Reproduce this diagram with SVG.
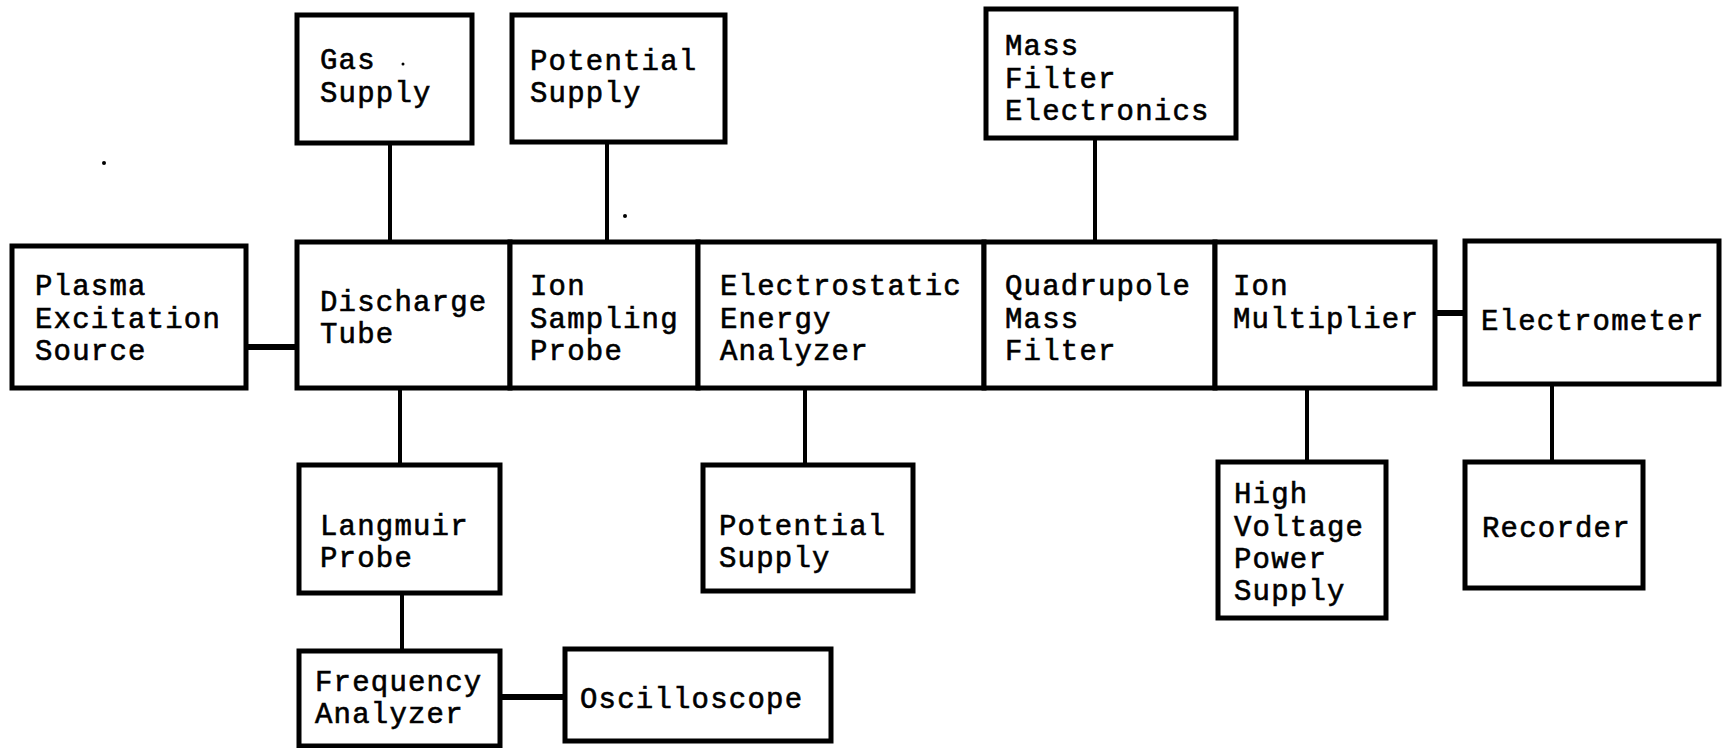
<svg xmlns="http://www.w3.org/2000/svg" width="1729" height="748" viewBox="0 0 1729 748">
  <style>
    .box { fill: #fff; stroke: #000; stroke-width: 5; stroke-linejoin: miter; }
    .wire { stroke: #000; stroke-width: 4; fill: none; }
    .bus { stroke: #000; stroke-width: 6; fill: none; }
    text { font-family: "Liberation Mono", "Courier New", monospace; font-size: 29px; letter-spacing: 1.2px; fill: #000; stroke: #000; stroke-width: 0.6; }
  </style>
  <rect width="1729" height="748" fill="#fff"/>

  <!-- connectors -->
  <g id="connectors">
    <line class="wire" x1="390" y1="143" x2="390" y2="242"/>
    <line class="wire" x1="607" y1="142" x2="607" y2="242"/>
    <line class="wire" x1="1095" y1="138" x2="1095" y2="242"/>
    <line class="bus" x1="246" y1="347" x2="297" y2="347"/>
    <line class="bus" x1="1435" y1="313" x2="1465" y2="313"/>
    <line class="wire" x1="400" y1="388" x2="400" y2="465"/>
    <line class="wire" x1="402" y1="593" x2="402" y2="651"/>
    <line class="bus" x1="500" y1="697" x2="565" y2="697"/>
    <line class="wire" x1="805" y1="388" x2="805" y2="465"/>
    <line class="wire" x1="1307" y1="388" x2="1307" y2="462"/>
    <line class="wire" x1="1552" y1="384" x2="1552" y2="462"/>
  </g>

  <!-- upper supplies -->
  <g id="gas-supply">
    <rect class="box" x="297" y="15" width="175" height="128"/>
    <text x="320" y="69">Gas</text>
    <text x="320" y="102">Supply</text>
  </g>
  <g id="potential-supply-top">
    <rect class="box" x="512" y="15" width="213" height="127"/>
    <text x="530" y="70">Potential</text>
    <text x="530" y="102">Supply</text>
  </g>
  <g id="mass-filter-electronics">
    <rect class="box" x="986" y="9" width="250" height="129"/>
    <text x="1005" y="55">Mass</text>
    <text x="1005" y="88">Filter</text>
    <text x="1005" y="120">Electronics</text>
  </g>

  <!-- main chain -->
  <g id="plasma-excitation-source">
    <rect class="box" x="12" y="246" width="234" height="142"/>
    <text x="35" y="295">Plasma</text>
    <text x="35" y="328">Excitation</text>
    <text x="35" y="360">Source</text>
  </g>
  <g id="discharge-tube">
    <rect class="box" x="297" y="242" width="213" height="146"/>
    <text x="320" y="311">Discharge</text>
    <text x="320" y="343">Tube</text>
  </g>
  <g id="ion-sampling-probe">
    <rect class="box" x="510" y="242" width="188" height="146"/>
    <text x="530" y="295">Ion</text>
    <text x="530" y="328">Sampling</text>
    <text x="530" y="360">Probe</text>
  </g>
  <g id="electrostatic-energy-analyzer">
    <rect class="box" x="698" y="242" width="286" height="146"/>
    <text x="720" y="295">Electrostatic</text>
    <text x="720" y="328">Energy</text>
    <text x="720" y="360">Analyzer</text>
  </g>
  <g id="quadrupole-mass-filter">
    <rect class="box" x="984" y="242" width="231" height="146"/>
    <text x="1005" y="295">Quadrupole</text>
    <text x="1005" y="328">Mass</text>
    <text x="1005" y="360">Filter</text>
  </g>
  <g id="ion-multiplier">
    <rect class="box" x="1215" y="242" width="220" height="146"/>
    <text x="1233" y="295">Ion</text>
    <text x="1233" y="328">Multiplier</text>
  </g>
  <g id="electrometer">
    <rect class="box" x="1465" y="241" width="254" height="143"/>
    <text x="1481" y="330">Electrometer</text>
  </g>

  <!-- lower units -->
  <g id="langmuir-probe">
    <rect class="box" x="299" y="465" width="201" height="128"/>
    <text x="320" y="535">Langmuir</text>
    <text x="320" y="567">Probe</text>
  </g>
  <g id="frequency-analyzer">
    <rect class="box" x="299" y="651" width="201" height="95"/>
    <text x="315" y="691">Frequency</text>
    <text x="315" y="723">Analyzer</text>
  </g>
  <g id="oscilloscope">
    <rect class="box" x="565" y="649" width="266" height="92"/>
    <text x="580" y="708">Oscilloscope</text>
  </g>
  <g id="potential-supply-bottom">
    <rect class="box" x="703" y="465" width="210" height="126"/>
    <text x="719" y="535">Potential</text>
    <text x="719" y="567">Supply</text>
  </g>
  <g id="high-voltage-power-supply">
    <rect class="box" x="1218" y="462" width="168" height="156"/>
    <text x="1234" y="503">High</text>
    <text x="1234" y="536">Voltage</text>
    <text x="1234" y="568">Power</text>
    <text x="1234" y="600">Supply</text>
  </g>
  <g id="recorder">
    <rect class="box" x="1465" y="462" width="178" height="126"/>
    <text x="1482" y="537">Recorder</text>
  </g>

  <!-- specks -->
  <g fill="#000">
    <circle cx="104" cy="163" r="2"/>
    <circle cx="403" cy="64" r="1.5"/>
    <circle cx="625" cy="216" r="2"/>
  </g>
</svg>
